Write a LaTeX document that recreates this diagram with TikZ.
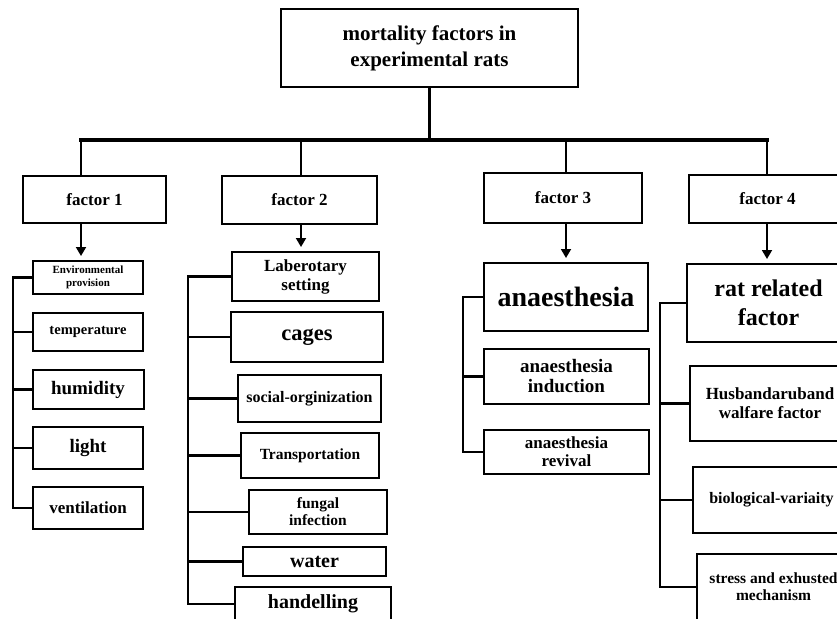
\documentclass[tikz,border=0pt]{standalone}
\usepackage{fontspec}
\setmainfont{Liberation Serif}
\usetikzlibrary{arrows.meta, positioning, calc}
\newcommand{\fsz}[2]{\fontsize{#1}{#2}\selectfont}
\tikzset{
  head/.style={draw, line width=2.4pt, align=center, minimum width=297pt, minimum height=78pt, font=\bfseries\fsz{21}{26}},
  fac/.style={draw, line width=1.8pt, font=\bfseries\fsz{17}{20}},
  kid/.style={draw, line width=2pt, align=center, inner sep=1pt},
  bar/.style={line width=4pt, line cap=rect},
  drop/.style={line width=1.6pt},
  stem/.style={line width=2.2pt},
  arr/.style={-{Triangle[length=9pt, width=10pt]}, line width=1.8pt, shorten >=4pt},
}

\begin{document}
\begin{tikzpicture}[x=1pt, y=-1pt]
    \useasboundingbox (0,0) rectangle (837,618);
    \clip (0,0) rectangle (837,618);
    % top and factors
    \node[head] (top) at (429.5,48) {mortality factors in\\experimental rats};
    \node[fac, minimum width=143pt, minimum height=47pt] (f1) at (94.5,199.5) {factor 1};
    \node[fac, minimum width=155pt, minimum height=48pt] (f2) at (299.5,200) {factor 2};
    \node[fac, minimum width=158pt, minimum height=50pt] (f3) at (563,198) {factor 3};
    \node[fac, minimum width=157pt, minimum height=48pt] (f4) at (767.5,199) {factor 4};
    \coordinate (j1) at (81,140);
    \coordinate (j2) at (301,140);
    \coordinate (j3) at (566,140);
    \coordinate (j4) at (767,140);
    \draw[stem] (top.south) -- (top.south |- j1);
    \draw[bar] (j1) -- (j4);
    \foreach \j/\f in {j1/f1, j2/f2, j3/f3, j4/f4} \draw[drop] (\j) -- (\j |- \f.north);

    % factor 1
    \node[kid, minimum width=110pt, minimum height=33pt, font=\bfseries\fsz{11}{13}] (e1) at (88,277.5) {Environmental\\provision};
    \node[kid, minimum width=110pt, minimum height=38pt, font=\bfseries\fsz{14.5}{17}] (e2) at (88,332) {temperature};
    \node[kid, minimum width=111pt, minimum height=39pt, font=\bfseries\fsz{19}{23}] (e3) at (88,389.5) {humidity};
    \node[kid, minimum width=110pt, minimum height=42pt, font=\bfseries\fsz{19}{23}] (e4) at (88,448) {light};
    \node[kid, minimum width=110pt, minimum height=42pt, font=\bfseries\fsz{17}{20}] (e5) at (88,508) {ventilation};
    \coordinate (t1) at (13,0);
    \draw[stem] (e1.west) -- (e1.west -| t1) -- (e5.west -| t1) -- (e5.west);
    \foreach \k in {e2,e3,e4} \draw[stem] (\k.west -| t1) -- (\k.west);

    % factor 2
    \node[kid, minimum width=147pt, minimum height=49pt, font=\bfseries\fsz{17}{19}] (l1) at (305.5,276.5) {Laberotary\\setting};
    \node[kid, minimum width=152pt, minimum height=50pt, font=\bfseries\fsz{22.5}{26}] (l2) at (307,337) {cages};
    \node[kid, minimum width=143pt, minimum height=47pt, font=\bfseries\fsz{16}{19}] (l3) at (309.5,398.5) {social-orginization};
    \node[kid, minimum width=138pt, minimum height=45pt, font=\bfseries\fsz{15.5}{18}] (l4) at (310,455.5) {Transportation};
    \node[kid, minimum width=138pt, minimum height=44pt, font=\bfseries\fsz{15.5}{17}] (l5) at (318,512) {fungal\\infection};
    \node[kid, minimum width=143pt, minimum height=29pt, font=\bfseries\fsz{20}{24}] (l6) at (314.5,561.5) {water};
    \node[kid, minimum width=156pt, minimum height=34pt, font=\bfseries\fsz{20}{24}] (l7) at (313,604) {handelling};
    \coordinate (t2) at (188,0);
    \draw[stem] (l1.west) -- (l1.west -| t2) -- (l7.west -| t2) -- (l7.west);
    \foreach \k in {l2,l3,l4,l5,l6} \draw[stem] (\k.west -| t2) -- (\k.west);

    % factor 3
    \node[kid, minimum width=164pt, minimum height=68pt, font=\bfseries\fsz{28}{32}] (a1) at (566,297) {anaesthesia};
    \node[kid, minimum width=165pt, minimum height=55pt, font=\bfseries\fsz{19}{20}] (a2) at (566.5,376.5) {anaesthesia\\induction};
    \node[kid, minimum width=165pt, minimum height=44pt, font=\bfseries\fsz{17}{18}] (a3) at (566.5,452) {anaesthesia\\revival};
    \coordinate (t3) at (463,0);
    \draw[stem] (a1.west) -- (a1.west -| t3) -- (a3.west -| t3) -- (a3.west);
    \draw[stem] (a2.west -| t3) -- (a2.west);

    % factor 4
    \node[kid, minimum width=163pt, minimum height=78pt, font=\bfseries\fsz{24}{29}] (r1) at (768.5,303) {rat related\\factor};
    \node[kid, minimum width=160pt, minimum height=75pt, font=\bfseries\fsz{17}{19}] (r2) at (770,403.5) {Husbandaruband\\walfare factor};
    \node[kid, minimum width=157pt, minimum height=66pt, font=\bfseries\fsz{16}{19}] (r3) at (771.5,500) {biological-variaity};
    \node[kid, minimum width=153pt, minimum height=66pt, font=\bfseries\fsz{15.5}{17}] (r4) at (773.5,587) {stress and exhusted\\mechanism};
    \coordinate (t4) at (660,0);
    \draw[stem] (r1.west) -- (r1.west -| t4) -- (r4.west -| t4) -- (r4.west);
    \foreach \k in {r2,r3} \draw[stem] (\k.west -| t4) -- (\k.west);

    % arrows
    \foreach \j/\f/\c in {j1/f1/e1, j2/f2/l1, j3/f3/a1, j4/f4/r1}
      \draw[arr] (\j |- \f.south) -- (\j |- \c.north);
\end{tikzpicture}
\end{document}
